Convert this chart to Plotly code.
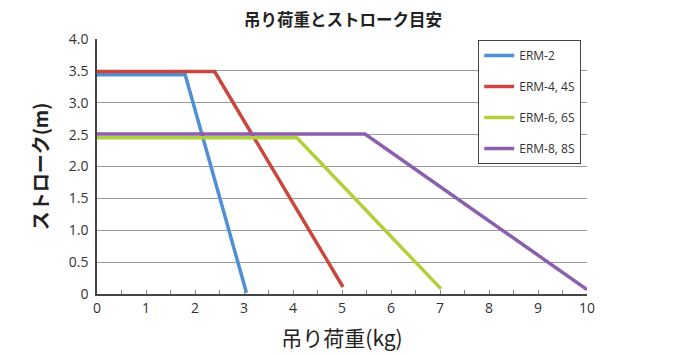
import plotly.graph_objects as go

names = ["ERM-2", "ERM-4, 4S", "ERM-6, 6S", "ERM-8, 8S"]
colors = ["#4f8fd3", "#c9473d", "#b2cf3c", "#8a5fae"]
load_x = [
    [0, 1.8, 3.05],
    [0, 2.4, 5.02],
    [0, 4.08, 7.02],
    [0, 5.47, 10.0],
]
stroke_y = [
    [3.44, 3.44, 0.02],
    [3.49, 3.49, 0.11],
    [2.45, 2.45, 0.08],
    [2.51, 2.51, 0.07],
]
x_ticks = [0, 1, 2, 3, 4, 5, 6, 7, 8, 9, 10]
y_ticks = [0, 0.5, 1.0, 1.5, 2.0, 2.5, 3.0, 3.5, 4.0]
y_tick_text = ["0", "0.5", "1.0", "1.5", "2.0", "2.5", "3.0", "3.5", "4.0"]

FONT = "Open Sans, Noto Sans CJK JP, sans-serif"
fig = go.Figure()
for i, (n, c) in enumerate(zip(names, colors)):
    fig.add_trace(go.Scatter(
        x=load_x[i], y=stroke_y[i], mode="lines", name=n,
        line=dict(color=c, width=3.5), legendgroup=str(i),
    ))

fig.update_layout(
    width=677, height=355,
    margin=dict(l=89, r=98, t=31, b=69, autoexpand=False),
    paper_bgcolor="white", plot_bgcolor="white",
    title=dict(text="<b>吊り荷重とストローク目安</b>", x=0.495, xanchor="center",
               y=1 - 12.5 / 355, yanchor="middle",
               font=dict(family="Noto Sans CJK JP", size=16.5, color="#222")),
    font=dict(family=FONT, color="#333"),
    showlegend=True,
    legend=dict(x=0.778, xanchor="left", y=0.996, yanchor="top",
                bordercolor="#444", borderwidth=1, bgcolor="white",
                font=dict(size=12, color="#333", family=FONT),
                tracegroupgap=12, itemwidth=30),
    xaxis=dict(range=[0, 10], tickvals=x_ticks, showgrid=False,
               showline=True, linecolor="#444", linewidth=1.5,
               ticks="inside", ticklen=4, tickcolor="#888",
               minor=dict(ticks="inside", ticklen=4, tickcolor="#888", dtick=0.5, showgrid=False),
               tickfont=dict(size=14, color="#333"), zeroline=False,
               title=dict(text="吊り荷重(kg)", standoff=16,
                          font=dict(family="Noto Sans CJK JP", size=21, color="#222"))),
    yaxis=dict(range=[0, 4.0], tickvals=y_ticks, ticktext=y_tick_text,
               showgrid=True, gridcolor="#9a9a9a", gridwidth=1.2,
               showline=True, linecolor="#444", linewidth=1.5,
               ticks="", ticklabelstandoff=4,
               tickfont=dict(size=14, color="#333"), zeroline=False,
               title=dict(text="<b>ストローク(m)</b>", standoff=15,
                          font=dict(family="Noto Sans CJK JP", size=19, color="#222"))),
)
fig.write_html("out.html")
